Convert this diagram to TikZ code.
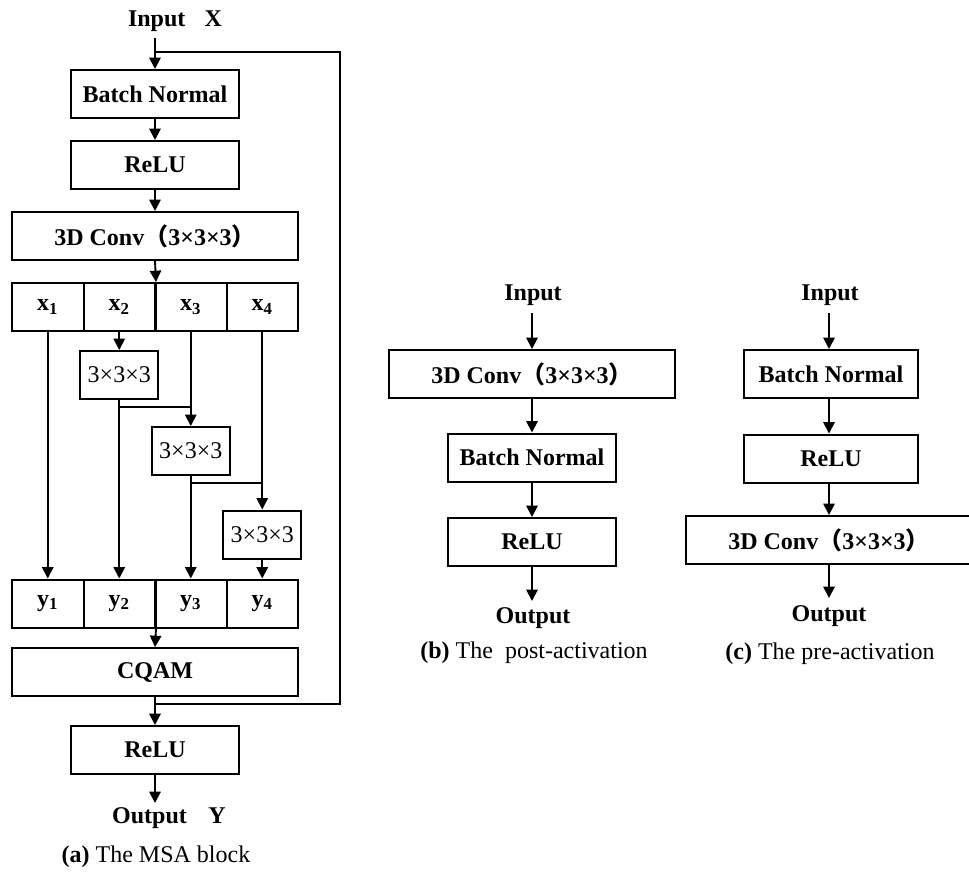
\documentclass[tikz,border=0pt]{standalone}
\usepackage{fontspec}
\setmainfont{Liberation Serif}
\newfontfamily\cjkfont{Noto Sans CJK SC}
\usetikzlibrary{arrows.meta}
\newcommand{\fwl}{{\cjkfont （}}
\newcommand{\fwr}{{\cjkfont ）}}
\newcommand{\fs}{\fontsize{18}{22}\selectfont}
\begin{document}
\begin{tikzpicture}[x=0.75pt,y=-0.75pt,
  box/.style={draw,line width=1.5pt,inner sep=0pt,font={\fs\bfseries},minimum height=36pt},
  wbox/.style={box,minimum width=126pt},
  cbox/.style={box,minimum width=214.5pt},
  cell/.style={box,minimum width=53.625pt},
  sbox/.style={draw,line width=1.5pt,inner sep=0pt,font=\fs,minimum width=58.5pt,minimum height=36pt},
  lbl/.style={font={\fs\bfseries},inner sep=0pt},
  captxt/.style={font=\fs,inner sep=0pt},
  arr/.style={line width=1.4pt,-{Triangle[length=8.5pt,width=8.5pt]}},
  ln/.style={line width=1.4pt}
]
\useasboundingbox (0,0) rectangle (969,871);

% ---------------- (a) MSA block ----------------
\node[lbl] (inX) at (175,21) {Input\hspace{0.8em}X};
\coordinate (inA) at (155,38);
\node[wbox] (bn1) at (155,94) {Batch Normal};
\node[wbox] (relu1) at (155,165) {ReLU};
\node[cbox] (conv1) at (155,236) {3D Conv\fwl 3×3×3\fwr};
\node[cell] (x1) at (47.75,307) {x\textsubscript{1}};
\node[cell] (x2) at (119.25,307) {x\textsubscript{2}};
\node[cell] (x3) at (190.75,307) {x\textsubscript{3}};
\node[cell] (x4) at (262.25,307) {x\textsubscript{4}};
\node[sbox] (s1) at (119.25,375) {3×3×3};
\node[sbox] (s2) at (190.75,451) {3×3×3};
\node[sbox] (s3) at (262.25,534.5) {3×3×3};
\node[cell] (y1) at (47.75,603.5) {y\textsubscript{1}};
\node[cell] (y2) at (119.25,603.5) {y\textsubscript{2}};
\node[cell] (y3) at (190.75,603.5) {y\textsubscript{3}};
\node[cell] (y4) at (262.25,603.5) {y\textsubscript{4}};
\node[cbox] (cqam) at (155,672) {CQAM};
\node[wbox] (relu2) at (155,750) {ReLU};
\coordinate (outA) at (155,803);
\node[lbl] (outY) at (169,818) {Output\hspace{0.9em}Y};
\node[captxt] (capA) at (156,857) {\textbf{(a)} The MSA block};

\coordinate (fb1) at (155,52);
\coordinate (fb2) at (340,52);
\coordinate (fb3) at (340,704);
\coordinate (fb4) at (155,704);
\coordinate (j1) at (119.25,407);
\coordinate (j1b) at (190.75,407);
\coordinate (j2) at (190.75,483);
\coordinate (j2b) at (262.25,483);

\draw[arr] (inA) -- (bn1.north);
\draw[ln] (fb1) -- (fb2) -- (fb3) -- (fb4);
\draw[arr] (bn1.south) -- (relu1.north);
\draw[arr] (relu1.south) -- (conv1.north);
\draw[arr] (conv1.south) -- (x2.north east);
\draw[ln] (x2.north east) -- (x2.south east);
\draw[arr] (x1.south) -- (y1.north);
\draw[arr] (x2.south) -- (s1.north);
\draw[arr] (s1.south) -- (y2.north);
\draw[ln] (j1) -- (j1b);
\draw[arr] (x3.south) -- (s2.north);
\draw[arr] (s2.south) -- (y3.north);
\draw[ln] (j2) -- (j2b);
\draw[arr] (x4.south) -- (s3.north);
\draw[arr] (s3.south) -- (y4.north);
\draw[ln] (y2.north east) -- (y2.south east);
\draw[arr] (y2.south east) -- (cqam.north);
\draw[arr] (cqam.south) -- (relu2.north);
\draw[arr] (relu2.south) -- (outA);

% ---------------- (b) post-activation ----------------
\node[lbl] (inB) at (533,295) {Input};
\coordinate (inBa) at (532,313);
\node[cbox] (convB) at (532,374) {3D Conv\fwl 3×3×3\fwr};
\node[wbox] (bnB) at (532,457.5) {Batch Normal};
\node[wbox] (reluB) at (532,542) {ReLU};
\coordinate (outBa) at (532,601);
\node[lbl] (outB) at (533,618) {Output};
\node[captxt] (capB) at (534,653) {\textbf{(b)} The\ \ post-activation};
\draw[arr] (inBa) -- (convB.north);
\draw[arr] (convB.south) -- (bnB.north);
\draw[arr] (bnB.south) -- (reluB.north);
\draw[arr] (reluB.south) -- (outBa);

% ---------------- (c) pre-activation ----------------
\node[lbl] (inC) at (830,295) {Input};
\coordinate (inCa) at (829,313);
\node[box,minimum width=131pt] (bnC) at (831,374) {Batch Normal};
\node[box,minimum width=131pt] (reluC) at (831,458.5) {ReLU};
\node[cbox] (convC) at (829,540) {3D Conv\fwl 3×3×3\fwr};
\coordinate (outCa) at (829,598);
\node[lbl] (outC) at (829,616) {Output};
\node[captxt] (capC) at (830,654) {\textbf{(c)} The pre-activation};
\draw[arr] (inCa) -- (bnC.north -| inCa);
\draw[arr] (bnC.south -| inCa) -- (reluC.north -| inCa);
\draw[arr] (reluC.south -| inCa) -- (convC.north);
\draw[arr] (convC.south) -- (outCa);
\end{tikzpicture}
\end{document}
